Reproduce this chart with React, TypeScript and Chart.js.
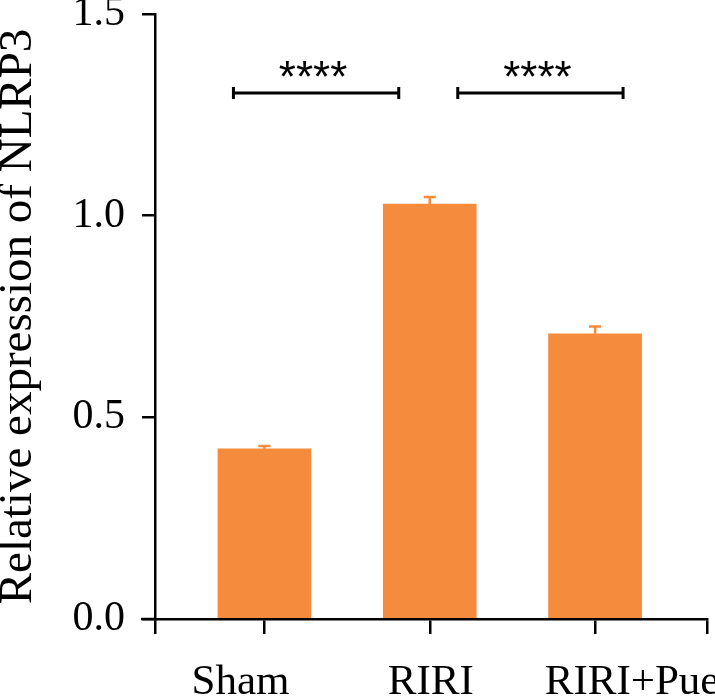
import React, { useEffect, useRef } from "react";
import { Chart, registerables } from "chart.js";

Chart.register(...registerables);

const categories = ["Sham", "RIRI", "RIRI+Pue"];
const means = [0.422, 1.029, 0.707];
const sems = [0.007, 0.017, 0.018];
const yTicks = [0, 0.5, 1.0, 1.5];
const sigPairs = [
  [0, 1],
  [1, 2],
];
const sigLabels = ["****", "****"];
const sigLevel = 1.304;

const BAR = "#F58B3D";
const SERIF = "'Liberation Serif', 'Times New Roman', serif";

const errorBarPlugin = {
  id: "errorBars",
  afterDatasetsDraw(chart: any) {
    const ctx = chart.ctx;
    const meta = chart.getDatasetMeta(0);
    const y = chart.scales.y;
    ctx.save();
    ctx.strokeStyle = BAR;
    ctx.lineWidth = 2.5;
    meta.data.forEach((bar: any, i: number) => {
      const x = bar.x;
      const top = y.getPixelForValue(means[i] + sems[i]);
      ctx.beginPath();
      ctx.moveTo(x, bar.y);
      ctx.lineTo(x, top);
      ctx.moveTo(x - 6, top);
      ctx.lineTo(x + 6, top);
      ctx.stroke();
    });
    ctx.restore();
  },
};

const sigPlugin = {
  id: "sig",
  afterDraw(chart: any, _args: any, opts: any) {
    const ctx = chart.ctx;
    const xs = chart.scales.x;
    const ys = chart.scales.y;
    const shifts: number[] = opts.shifts || [0, 0];
    const labelShifts: number[] = opts.labelShifts || [0, 0, 0];
    ctx.save();
    ctx.strokeStyle = "#000";
    ctx.fillStyle = "#000";
    ctx.lineWidth = 3;
    const yb = ys.getPixelForValue(sigLevel);
    sigPairs.forEach((p, i) => {
      const x1 = xs.getPixelForValue(p[0]) + shifts[i];
      const x2 = xs.getPixelForValue(p[1]) + shifts[i];
      ctx.beginPath();
      ctx.moveTo(x1, yb);
      ctx.lineTo(x2, yb);
      ctx.moveTo(x1, yb - 6);
      ctx.lineTo(x1, yb + 6);
      ctx.moveTo(x2, yb - 6);
      ctx.lineTo(x2, yb + 6);
      ctx.stroke();
      ctx.font = "44px 'Liberation Sans', Arial, sans-serif";
      ctx.textAlign = "center";
      ctx.textBaseline = "alphabetic";
      ctx.fillText(sigLabels[i], (x1 + x2) / 2 - 3, yb - 1);
    });
    const ca = chart.chartArea;
    ctx.lineWidth = 2.5;
    ctx.beginPath();
    ctx.moveTo(ca.left - 14, ca.bottom);
    ctx.lineTo(ca.left, ca.bottom);
    ctx.stroke();
    // category labels
    ctx.font = `43px ${SERIF}`;
    ctx.textAlign = "center";
    ctx.textBaseline = "alphabetic";
    categories.forEach((c, i) => {
      ctx.fillText(c, xs.getPixelForValue(i) + labelShifts[i], ca.bottom + 75);
    });
    ctx.restore();
  },
};

export default function App() {
  const ref = useRef<HTMLCanvasElement | null>(null);
  useEffect(() => {
    if (!ref.current) return;
    const chart = new Chart(ref.current, {
      type: "bar",
      data: {
        datasets: [
          {
            data: categories.map((c, i) => ({ x: i, y: means[i] })),
            backgroundColor: BAR,
            borderWidth: 0,
            barThickness: 93,
          } as any,
        ],
      },
      plugins: [errorBarPlugin, sigPlugin],
      options: {
        animation: false,
        responsive: true,
        maintainAspectRatio: false,
        layout: { padding: { top: 14, right: 8, left: 0, bottom: 0 } },
        plugins: {
          legend: { display: false },
          tooltip: { enabled: false },
          sig: { shifts: [-31, 28], labelShifts: [-24, 1, 37] },
        } as any,
        scales: {
          x: {
            type: "linear",
            offset: false,
            min: -0.662,
            max: 2.677,
            afterBuildTicks: (s: any) => {
              s.ticks = [s.min, 0, 1, 2, s.max].map((v: number) => ({ value: v }));
            },
            ticks: { display: false },
            grid: { offset: false, drawOnChartArea: false, tickLength: 15, color: "#000", lineWidth: 2.5 },
            border: { color: "#000", width: 2.5 },
            afterFit: (s: any) => {
              s.height = 79;
              s.paddingLeft = 0;
              s.paddingRight = 0;
            },
          },
          y: {
            min: 0,
            max: 1.5,
            afterBuildTicks: (s: any) => {
              s.ticks = yTicks.map((v) => ({ value: v }));
            },
            ticks: {
              callback: (v: any) => Number(v).toFixed(1),
              font: { family: SERIF, size: 42 },
              color: "#000",
              padding: 17,
            },
            grid: { drawOnChartArea: false, tickLength: 13, color: "#000", lineWidth: 2.5 },
            border: { color: "#000", width: 2.5 },
            title: {
              display: true,
              text: "Relative expression of NLRP3",
              font: { family: SERIF, size: 47, lineHeight: 0.8 },
              color: "#000",
              padding: 0,
            },
            afterFit: (s: any) => {
              s.width = 155;
              s.paddingTop = 0;
              s.paddingBottom = 0;
            },
          },
        } as any,
      },
    });
    return () => chart.destroy();
  }, []);
  return (
    <div style={{ position: "absolute", left: 0, top: 0, width: 715, height: 698, background: "#fff" }}>
      <canvas ref={ref} />
    </div>
  );
}
